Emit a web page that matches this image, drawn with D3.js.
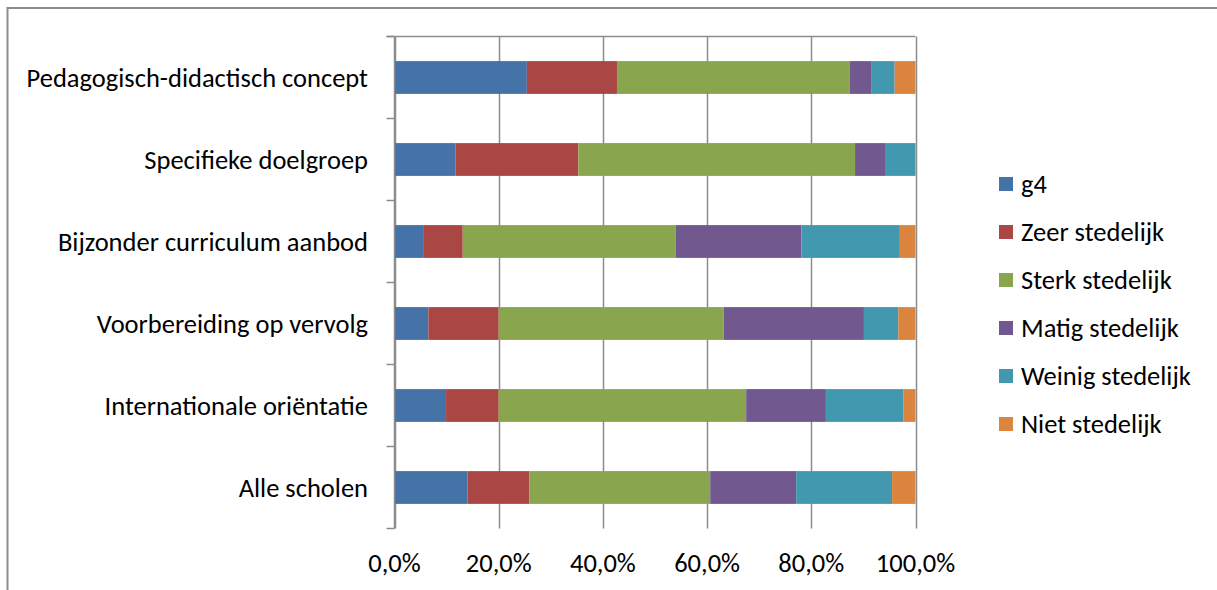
<!DOCTYPE html>
<html>
<head>
<meta charset="utf-8">
<script src="https://cdn.jsdelivr.net/npm/d3@7"></script>
<style>
  body { margin: 0; background: #fff; }
  svg text { font-family: Carlito, Calibri, Lato, sans-serif; fill: #000; }
</style>
</head>
<body>
<script>
'use strict';

// categories, top to bottom
const categories = [
  "Pedagogisch-didactisch concept",
  "Specifieke doelgroep",
  "Bijzonder curriculum aanbod",
  "Voorbereiding op vervolg",
  "Internationale oriëntatie",
  "Alle scholen"
];

const seriesNames = ["g4", "Zeer stedelijk", "Sterk stedelijk", "Matig stedelijk", "Weinig stedelijk", "Niet stedelijk"];
const seriesColors = ["#4572A7", "#AA4643", "#89A54E", "#71588F", "#4198AF", "#DB843D"];

// shares per series (percent), one value per category
const g4 =              [25.4, 11.7,  5.5,  6.5,  9.9, 14.0];
const zeerStedelijk =   [17.3, 23.6,  7.6, 13.5, 10.1, 11.9];
const sterkStedelijk =  [44.7, 53.1, 40.9, 43.2, 47.5, 34.7];
const matigStedelijk =  [ 4.2,  5.9, 24.1, 26.9, 15.3, 16.5];
const weinigStedelijk = [ 4.4,  5.7, 18.9,  6.6, 14.9, 18.4];
const nietStedelijk =   [ 4.0,  0.0,  3.0,  3.3,  2.3,  4.5];

const xTicks = [0, 20, 40, 60, 80, 100];

const allSeries = [g4, zeerStedelijk, sterkStedelijk, matigStedelijk, weinigStedelijk, nietStedelijk];

const width = 1217, height = 590;
const plot = { left: 394.5, right: 915.5, top: 36.5, bottom: 528.5 };
const fontSize = '26.5px';

const svg = d3.select('body').append('svg')
  .attr('width', width)
  .attr('height', height);

// outer frame (top and left edges visible)
svg.append('path')
  .attr('d', `M7.5,${height} L7.5,8 L${width},8`)
  .attr('fill', 'none')
  .attr('stroke', '#8c8c8c')
  .attr('stroke-width', 2);

const table = categories.map((c, i) => {
  const row = { cat: c };
  seriesNames.forEach((s, j) => { row[s] = allSeries[j][i]; });
  return row;
});

const stacked = d3.stack().keys(seriesNames)(table);

const x = d3.scaleLinear().domain([0, 100]).range([plot.left, plot.right]);
const y = d3.scaleBand().domain(categories).range([plot.top, plot.bottom]).paddingInner(0.6).paddingOuter(0.3);
const yEdges = d3.scaleLinear().domain([0, categories.length]).range([plot.top, plot.bottom]);

// vertical gridlines
svg.append('g')
  .selectAll('line')
  .data(xTicks)
  .join('line')
  .attr('x1', d => Math.round(x(d)) + 0.5)
  .attr('x2', d => Math.round(x(d)) + 0.5)
  .attr('y1', plot.top)
  .attr('y2', plot.bottom)
  .attr('stroke', '#8c8c8c')
  .attr('stroke-width', 1.5);

// top line
svg.append('line')
  .attr('x1', plot.left - 8)
  .attr('x2', plot.right)
  .attr('y1', plot.top)
  .attr('y2', plot.top)
  .attr('stroke', '#8c8c8c')
  .attr('stroke-width', 1.5);

// bars
svg.append('g')
  .selectAll('g')
  .data(stacked)
  .join('g')
  .attr('fill', (d, i) => seriesColors[i])
  .selectAll('rect')
  .data(d => d)
  .join('rect')
  .attr('x', d => x(d[0]))
  .attr('width', d => Math.max(0, x(d[1]) - x(d[0])))
  .attr('y', d => y(d.data.cat))
  .attr('height', y.bandwidth());

// category axis line with tick marks at band edges
svg.append('line')
  .attr('x1', plot.left).attr('x2', plot.left)
  .attr('y1', plot.top).attr('y2', plot.bottom)
  .attr('stroke', '#8c8c8c')
  .attr('stroke-width', 1.5);

svg.append('g')
  .selectAll('line')
  .data(d3.range(categories.length + 1))
  .join('line')
  .attr('x1', plot.left - 8)
  .attr('x2', plot.left)
  .attr('y1', d => yEdges(d))
  .attr('y2', d => yEdges(d))
  .attr('stroke', '#8c8c8c')
  .attr('stroke-width', 1.5);

// category labels
svg.append('g')
  .selectAll('text')
  .data(categories)
  .join('text')
  .attr('x', 368)
  .attr('y', d => y(d) + y.bandwidth() / 2)
  .attr('dy', '0.35em')
  .attr('text-anchor', 'end')
  .style('font-size', fontSize)
  .text(d => d);

// value tick labels
svg.append('g')
  .selectAll('text')
  .data(xTicks)
  .join('text')
  .attr('x', d => x(d))
  .attr('y', 572)
  .attr('text-anchor', 'middle')
  .style('font-size', fontSize)
  .text(d => d3.format('.1f')(d).replace('.', ',') + '%');

// legend
const legend = svg.append('g')
  .selectAll('g')
  .data(seriesNames)
  .join('g')
  .attr('transform', (d, i) => `translate(999, ${184 + i * 48})`);

legend.append('rect')
  .attr('x', 0)
  .attr('y', -7)
  .attr('width', 14)
  .attr('height', 14)
  .attr('fill', (d, i) => seriesColors[i]);

legend.append('text')
  .attr('x', 22)
  .attr('dy', '0.35em')
  .style('font-size', fontSize)
  .text(d => d);
</script>
</body>
</html>
